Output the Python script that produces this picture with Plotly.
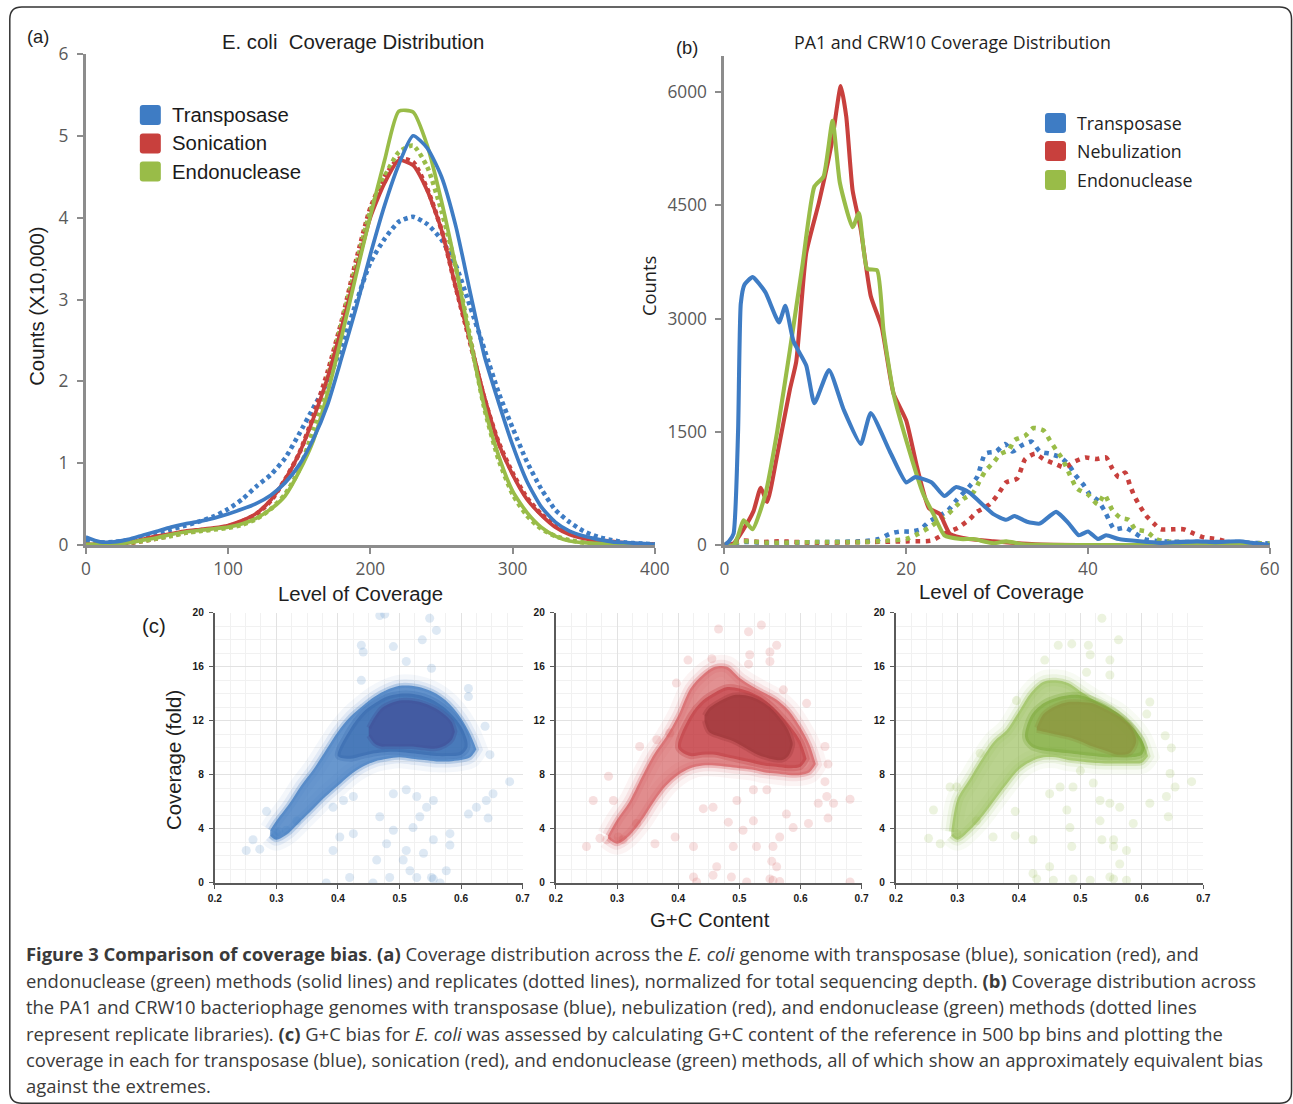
import plotly.graph_objects as go

# Screen-capture mapping measured from previous renders: screen = S * page + O
OX, SX, OY, SY = 7.2, 0.983, 12.1, 0.979
FW, FH = 1308, 1115
def fx(X): return ((X - OX) / SX) / FW
def fy(Y): return 1 - ((Y - OY) / SY) / FH
def fs(s): return round(s / SX, 2)

# ---------------- (a) E. coli coverage distribution (counts x10,000) ----------------
cov_a = [0, 10, 20, 30, 40, 50, 60, 70, 80, 90, 100, 110, 120, 130, 140, 150, 160, 170, 180, 190,
         200, 210, 220, 230, 240, 250, 260, 270, 280, 290, 300, 310, 320, 330, 340, 350, 360, 370,
         380, 390, 400]
trans_a = [0.10, 0.04, 0.04, 0.07, 0.12, 0.17, 0.22, 0.26, 0.29, 0.33, 0.38, 0.44, 0.51, 0.61, 0.76,
           0.98, 1.30, 1.72, 2.30, 2.90, 3.55, 4.15, 4.65, 5.00, 4.85, 4.50, 3.90, 3.10, 2.32, 1.75,
           1.22, 0.78, 0.47, 0.28, 0.17, 0.11, 0.07, 0.04, 0.03, 0.02, 0.01]
sonic_a = [0.01, 0.01, 0.01, 0.03, 0.07, 0.11, 0.14, 0.17, 0.19, 0.21, 0.24, 0.30, 0.39, 0.55, 0.80,
           1.12, 1.55, 2.05, 2.67, 3.35, 4.00, 4.42, 4.70, 4.64, 4.33, 3.85, 3.15, 2.50, 1.82, 1.25,
           0.86, 0.56, 0.37, 0.22, 0.13, 0.08, 0.05, 0.03, 0.02, 0.01, 0.00]
endo_a = [0.01, 0.01, 0.01, 0.03, 0.06, 0.09, 0.13, 0.16, 0.18, 0.20, 0.22, 0.26, 0.33, 0.44, 0.60,
          0.90, 1.28, 1.86, 2.56, 3.30, 4.02, 4.70, 5.30, 5.29, 4.88, 4.20, 3.40, 2.52, 1.70, 1.10,
          0.66, 0.40, 0.22, 0.11, 0.05, 0.03, 0.02, 0.01, 0.00, 0.00, 0.00]
trans_a_rep = [0.05, 0.03, 0.04, 0.06, 0.10, 0.15, 0.19, 0.24, 0.29, 0.35, 0.44, 0.56, 0.72, 0.86, 1.06,
               1.36, 1.68, 2.00, 2.44, 2.96, 3.45, 3.74, 3.95, 4.01, 3.92, 3.73, 3.42, 2.92, 2.40, 1.87,
               1.43, 1.02, 0.69, 0.43, 0.28, 0.17, 0.10, 0.06, 0.03, 0.02, 0.01]
sonic_a_rep = [0.00, 0.00, 0.01, 0.02, 0.05, 0.08, 0.12, 0.15, 0.18, 0.20, 0.23, 0.29, 0.38, 0.54, 0.80,
               1.12, 1.58, 2.12, 2.75, 3.48, 4.12, 4.50, 4.72, 4.68, 4.35, 3.85, 3.15, 2.48, 1.80, 1.26,
               0.88, 0.58, 0.38, 0.24, 0.15, 0.09, 0.06, 0.04, 0.02, 0.01, 0.01]
endo_a_rep = [0.00, 0.00, 0.01, 0.03, 0.05, 0.08, 0.11, 0.15, 0.17, 0.19, 0.21, 0.25, 0.32, 0.44, 0.62,
              0.92, 1.42, 2.05, 2.72, 3.42, 4.08, 4.50, 4.80, 4.88, 4.62, 4.08, 3.40, 2.55, 1.68, 1.05,
              0.62, 0.36, 0.20, 0.11, 0.06, 0.03, 0.02, 0.01, 0.00, 0.00, 0.00]
a_xticks = [0, 100, 200, 300, 400]
a_yticks = [0, 1, 2, 3, 4, 5, 6]
a_legend = ["Transposase", "Sonication", "Endonuclease"]

# ---------------- (b) PA1 and CRW10 coverage distribution ----------------
trans_b_x = [0, 0.5, 1.0, 1.5, 1.8, 2.2, 3.1, 4.5, 6.0, 6.7, 7.6, 9.0, 9.9, 11.5, 13.1, 15.0, 16.1, 18.2,
             20.0, 21.0, 22.8, 24.2, 25.5, 26.9, 29.6, 31.0, 31.9, 33.3, 34.7, 36.5, 37.9, 39.0, 40.0,
             41.1, 42.0, 43.4, 45.7, 48.0, 50, 52, 54, 56.7, 58, 60]
trans_b_y = [0, 50, 150, 1500, 3200, 3450, 3550, 3350, 2950, 3170, 2700, 2380, 1880, 2320, 1800, 1340,
             1750, 1240, 830, 900, 830, 650, 770, 700, 410, 335, 385, 310, 285, 440, 285, 130, 180, 80,
             130, 80, 50, 30, 40, 50, 40, 50, 30, 0]
nebul_b_x = [0, 1.0, 2.1, 3.2, 4.0, 4.7, 5.8, 7.2, 7.9, 9.0, 10.4, 11.8, 12.8, 13.4, 14.1, 15.0, 16.1,
             17.3, 18.6, 20.0, 21.2, 22.5, 23.7, 24.8, 26.9, 29.6, 34.2, 40, 50, 60]
nebul_b_y = [0, 20, 210, 450, 760, 570, 1190, 2060, 2430, 3870, 4540, 5320, 6080, 5680, 4700, 4180,
             3300, 2890, 2010, 1650, 1030, 490, 410, 150, 80, 50, 10, 0, 0, 0]
endo_b_x = [0, 1.0, 1.5, 2.1, 3.1, 4.5, 5.8, 7.2, 8.6, 9.9, 10.9, 11.9, 12.7, 14.1, 14.8, 15.7, 16.8,
            17.5, 18.6, 20.0, 21.9, 23.0, 24.2, 26.0, 27.4, 29.6, 31.0, 32.9, 40, 50, 60]
endo_b_y = [0, 0, 120, 330, 210, 670, 1500, 2580, 3720, 4750, 4880, 5620, 4800, 4210, 4400, 3660, 3640,
            2840, 2010, 1390, 670, 410, 130, 80, 80, 25, 50, 10, 0, 0, 0]
trans_b_rep_x = [0, 2, 5, 10, 15, 17, 18.2, 19.3, 20.5, 21.6, 22.5, 23.7, 24.6, 25.5, 26.9, 27.8, 28.7,
                 29.9, 30.9, 31.7, 32.7, 33.8, 34.7, 35.8, 37.0, 37.9, 38.6, 39.5, 40.2, 41.1, 41.8, 42.3,
                 42.9, 44.1, 45.2, 46.2, 48, 52, 56, 60]
trans_b_rep_y = [0, 40, 30, 40, 50, 80, 150, 180, 180, 210, 310, 390, 460, 590, 770, 900, 1210, 1240,
                 1340, 1240, 1320, 1370, 1240, 1210, 1160, 1060, 930, 800, 670, 590, 460, 335, 210, 230,
                 155, 80, 50, 40, 40, 20]
nebul_b_rep_x = [0, 2, 4, 6, 10, 15, 20, 22.8, 24.2, 25.7, 26.9, 27.8, 29.2, 30.1, 31.0, 32.2, 33.1, 34.2,
                 35.1, 36.3, 37.4, 38.6, 39.7, 41.0, 42.0, 42.7, 43.4, 44.1, 44.6, 45.1, 45.7, 46.4, 47.3,
                 48.0, 49.4, 50.5, 51.6, 52.8, 54.2, 55.8, 60]
nebul_b_rep_y = [0, 60, 40, 50, 30, 40, 50, 60, 150, 230, 335, 440, 540, 670, 830, 880, 1140, 1210, 1140,
                 1080, 1030, 1110, 1160, 1140, 1160, 1010, 900, 960, 800, 650, 520, 390, 280, 210, 210,
                 210, 155, 100, 80, 30, 0]
endo_b_rep_x = [0, 2, 5, 10, 15, 18, 20, 21.4, 22.5, 23.7, 24.6, 25.5, 26.4, 27.4, 28.0, 28.7, 29.7, 30.4,
                31.3, 31.9, 33.1, 34.0, 35.1, 35.8, 36.5, 37.2, 37.7, 38.8, 40.0, 41.1, 41.8, 42.7, 43.6,
                44.5, 45.2, 46.4, 47.5, 48.4, 52, 56, 60]
endo_b_rep_y = [0, 50, 30, 40, 40, 60, 80, 155, 230, 335, 410, 520, 620, 700, 830, 980, 1110, 1210, 1260,
                1390, 1450, 1550, 1520, 1390, 1260, 1140, 1010, 750, 670, 540, 670, 460, 360, 335, 210,
                180, 80, 50, 30, 30, 20]
b_xticks = [0, 20, 40, 60]
b_yticks = [0, 1500, 3000, 4500, 6000]
b_legend = ["Transposase", "Nebulization", "Endonuclease"]

# ---------------- (c) G+C bias: density envelopes (GC, low cov, high cov) + sparse points ----------------
blue_outer_gc = [0.29, 0.30, 0.32, 0.34, 0.36, 0.38, 0.40, 0.42, 0.44, 0.46, 0.48, 0.50, 0.52, 0.54, 0.56, 0.58, 0.60, 0.615, 0.625]
blue_outer_lo = [3.5, 3.2, 3.7, 4.6, 5.5, 6.4, 7.2, 8.0, 8.6, 9.0, 9.2, 9.3, 9.2, 9.1, 9.0, 9.0, 9.1, 9.3, 9.9]
blue_outer_hi = [3.9, 4.6, 5.8, 7.2, 8.4, 9.8, 11.2, 12.3, 13.1, 13.8, 14.3, 14.6, 14.6, 14.4, 14.0, 13.3, 12.2, 11.0, 9.9]
blue_mid_gc = [0.40, 0.42, 0.44, 0.46, 0.48, 0.50, 0.52, 0.54, 0.56, 0.58, 0.60, 0.61]
blue_mid_lo = [9.4, 9.2, 9.4, 9.6, 9.7, 9.7, 9.6, 9.5, 9.4, 9.4, 9.5, 10.0]
blue_mid_hi = [9.4, 11.4, 12.6, 13.3, 13.8, 14.0, 14.0, 13.8, 13.4, 12.7, 11.6, 10.5]
blue_core_gc = [0.450, 0.46, 0.47, 0.48, 0.50, 0.52, 0.54, 0.56, 0.575, 0.585, 0.59]
blue_core_lo = [10.9, 10.3, 10.1, 10.1, 10.1, 10.1, 10.0, 9.95, 10.2, 10.6, 11.2]
blue_core_hi = [11.5, 12.3, 12.9, 13.2, 13.5, 13.5, 13.3, 12.9, 12.4, 11.9, 11.2]
blue_sparse = [(0.468, 19.8), (0.476, 19.9), (0.549, 19.6), (0.560, 18.7), (0.537, 18.0), (0.490, 17.5),
               (0.441, 17.1), (0.438, 17.6), (0.511, 16.4), (0.552, 15.9), (0.438, 15.0), (0.612, 14.4),
               (0.612, 13.8), (0.639, 11.6), (0.647, 9.5), (0.679, 7.5), (0.652, 6.6), (0.641, 6.1),
               (0.625, 5.6), (0.612, 5.1), (0.644, 4.8), (0.582, 2.8), (0.576, 0.9), (0.552, 0.4),
               (0.555, 0.3), (0.566, 0.0), (0.528, 0.4), (0.506, 1.7), (0.511, 2.4), (0.522, 4.1),
               (0.533, 4.9), (0.544, 5.6), (0.555, 6.1), (0.528, 6.4), (0.511, 6.9), (0.490, 6.6),
               (0.468, 4.9), (0.463, 1.7), (0.479, 2.9), (0.490, 3.9), (0.425, 6.4), (0.409, 6.1),
               (0.392, 5.6), (0.403, 3.4), (0.392, 2.4), (0.425, 3.65), (0.419, 0.4), (0.381, 0.0),
               (0.484, 0.4), (0.457, 0.0), (0.251, 2.4), (0.262, 3.2), (0.273, 2.5), (0.284, 5.3),
               (0.316, 3.9), (0.333, 4.6), (0.582, 3.65), (0.555, 3.2), (0.539, 2.2), (0.517, 0.9),
               (0.300, 3.7), (0.296, 3.5), (0.304, 3.8)]

red_outer_gc = [0.285, 0.30, 0.32, 0.34, 0.36, 0.38, 0.40, 0.42, 0.44, 0.46, 0.48, 0.50, 0.52, 0.54, 0.56, 0.58, 0.60, 0.615, 0.625]
red_outer_lo = [3.3, 2.9, 3.5, 4.6, 6.0, 7.2, 8.0, 8.5, 8.7, 8.7, 8.6, 8.5, 8.4, 8.2, 8.1, 8.0, 8.0, 8.2, 8.8]
red_outer_hi = [3.5, 4.7, 6.0, 7.8, 9.5, 10.8, 12.4, 14.4, 15.4, 16.0, 16.0, 15.2, 14.6, 14.1, 13.6, 12.8, 11.5, 10.2, 8.8]
red_mid_gc = [0.40, 0.42, 0.44, 0.46, 0.48, 0.50, 0.52, 0.54, 0.56, 0.58, 0.60, 0.61]
red_mid_lo = [10.0, 9.4, 9.5, 9.5, 9.3, 9.1, 8.9, 8.7, 8.6, 8.5, 8.6, 9.2]
red_mid_hi = [10.0, 12.4, 13.5, 14.1, 14.5, 14.4, 14.1, 13.6, 12.8, 11.8, 10.5, 9.2]
red_core_gc = [0.443, 0.45, 0.47, 0.49, 0.51, 0.53, 0.55, 0.57, 0.58, 0.587]
red_core_lo = [12.0, 11.2, 10.8, 10.5, 10.0, 9.5, 9.2, 9.1, 9.4, 10.2]
red_core_hi = [12.4, 12.9, 13.5, 13.9, 13.9, 13.6, 13.0, 12.0, 11.3, 10.4]
red_sparse = [(0.466, 18.8), (0.515, 18.6), (0.536, 19.1), (0.561, 17.6), (0.550, 17.1), (0.517, 16.9),
              (0.515, 16.2), (0.416, 16.5), (0.455, 16.6), (0.550, 16.4), (0.610, 13.3), (0.572, 14.3),
              (0.640, 10.1), (0.645, 8.8), (0.640, 7.5), (0.681, 6.2), (0.654, 5.9), (0.643, 6.4),
              (0.629, 5.9), (0.613, 4.4), (0.645, 4.8), (0.588, 4.1), (0.577, 5.1), (0.566, 3.4),
              (0.555, 2.7), (0.553, 1.6), (0.561, 1.2), (0.550, 0.3), (0.555, 0.2), (0.566, 0.1),
              (0.512, 0.07), (0.487, 0.44), (0.457, 0.57), (0.430, 0.07), (0.425, 0.44), (0.463, 1.2),
              (0.490, 2.7), (0.528, 2.7), (0.523, 4.6), (0.506, 3.9), (0.482, 4.5), (0.457, 5.6),
              (0.441, 5.5), (0.496, 6.1), (0.523, 6.9), (0.545, 6.9), (0.425, 2.7), (0.395, 3.4),
              (0.362, 2.9), (0.332, 4.4), (0.310, 3.2), (0.302, 3.4), (0.283, 3.2), (0.272, 3.3),
              (0.250, 2.7), (0.261, 6.1), (0.286, 7.9), (0.294, 6.1), (0.337, 10.1), (0.365, 10.6),
              (0.386, 11.1), (0.397, 14.8), (0.681, 0.07)]

green_outer_gc = [0.29, 0.30, 0.32, 0.34, 0.36, 0.38, 0.40, 0.42, 0.44, 0.46, 0.48, 0.50, 0.52, 0.54, 0.56, 0.58, 0.60, 0.61]
green_outer_lo = [3.5, 3.2, 3.9, 4.9, 6.1, 7.3, 8.4, 9.0, 9.3, 9.3, 9.1, 9.0, 8.9, 8.85, 8.85, 8.85, 8.9, 9.4]
green_outer_hi = [3.8, 6.2, 7.7, 9.2, 10.5, 11.3, 12.7, 14.1, 14.9, 15.0, 14.8, 14.2, 13.6, 13.1, 12.6, 11.8, 10.6, 9.4]
green_mid_gc = [0.41, 0.42, 0.44, 0.46, 0.48, 0.50, 0.52, 0.54, 0.56, 0.58, 0.60, 0.605]
green_mid_lo = [10.8, 10.1, 9.8, 9.7, 9.6, 9.5, 9.4, 9.3, 9.3, 9.3, 9.5, 10.0]
green_mid_hi = [10.8, 12.4, 13.3, 13.7, 13.9, 13.9, 13.6, 13.2, 12.6, 11.8, 10.6, 10.0]
green_core_gc = [0.429, 0.44, 0.46, 0.48, 0.50, 0.52, 0.54, 0.56, 0.58, 0.59]
green_core_lo = [11.3, 11.2, 11.0, 10.8, 10.5, 10.1, 9.8, 9.5, 9.6, 10.3]
green_core_hi = [11.5, 12.5, 13.1, 13.4, 13.4, 13.3, 12.9, 12.4, 11.7, 10.8]
green_sparse = [(0.535, 19.6), (0.464, 17.6), (0.486, 17.7), (0.513, 17.6), (0.516, 16.9), (0.562, 18.0),
                (0.442, 16.5), (0.548, 16.5), (0.548, 15.4), (0.510, 15.6), (0.613, 13.4), (0.608, 12.5),
                (0.638, 10.9), (0.648, 10.0), (0.646, 8.1), (0.681, 7.5), (0.654, 7.1), (0.640, 6.4),
                (0.613, 5.9), (0.643, 4.9), (0.586, 4.4), (0.564, 5.6), (0.548, 5.9), (0.532, 6.1),
                (0.521, 7.4), (0.500, 8.3), (0.488, 7.1), (0.467, 7.1), (0.450, 6.6), (0.478, 5.4),
                (0.532, 4.6), (0.554, 3.2), (0.535, 3.2), (0.554, 2.7), (0.575, 2.4), (0.564, 1.4),
                (0.548, 0.44), (0.554, 0.3), (0.575, 0.2), (0.516, 0.2), (0.488, 0.3), (0.456, 0.2),
                (0.429, 0.3), (0.423, 0.7), (0.450, 1.2), (0.486, 2.7), (0.483, 4.1), (0.423, 3.2),
                (0.394, 3.5), (0.394, 5.3), (0.358, 3.4), (0.331, 4.6), (0.299, 3.65), (0.272, 2.9),
                (0.253, 3.3), (0.261, 5.4), (0.288, 7.1), (0.299, 7.1), (0.337, 9.6), (0.396, 13.5)]

caption_lines = [
    "<b>Figure 3 Comparison of coverage bias</b>. <b>(a)</b> Coverage distribution across the <i>E. coli</i> genome with transposase (blue), sonication (red), and",
    "endonuclease (green) methods (solid lines) and replicates (dotted lines), normalized for total sequencing depth. <b>(b)</b> Coverage distribution across",
    "the PA1 and CRW10 bacteriophage genomes with transposase (blue), nebulization (red), and endonuclease (green) methods (dotted lines",
    "represent replicate libraries). <b>(c)</b> G+C bias for <i>E. coli</i> was assessed by calculating G+C content of the reference in 500 bp bins and plotting the",
    "coverage in each for transposase (blue), sonication (red), and endonuclease (green) methods, all of which show an approximately equivalent bias",
    "against the extremes.",
]

# ---------------- styling ----------------
BLUE, RED, GREEN = '#3E7CC4', '#C8403D', '#99BC48'
AXGREY = '#8C8C8C'
TICKFONT = dict(family='Open Sans', size=fs(17), color='#595959')
HELV = 'Liberation Sans'

fig = go.Figure()

def line_trace(x, y, color, xa, ya, width, dash=None, smooth=0.6):
    fig.add_trace(go.Scatter(x=x, y=y, mode='lines', xaxis=xa, yaxis=ya, showlegend=False,
                             hoverinfo='skip',
                             line=dict(color=color, width=width, dash=dash, shape='spline', smoothing=smooth)))

# (a)
for ys, c in [(trans_a_rep, BLUE), (sonic_a_rep, RED), (endo_a_rep, GREEN)]:
    line_trace(cov_a, ys, c, 'x', 'y', 4.6, '4px,3.6px')
for ys, c in [(sonic_a, RED), (endo_a, GREEN), (trans_a, BLUE)]:
    line_trace(cov_a, ys, c, 'x', 'y', 3.7)

# (b)
for xs, ys, c in [(trans_b_rep_x, trans_b_rep_y, BLUE), (nebul_b_rep_x, nebul_b_rep_y, RED),
                  (endo_b_rep_x, endo_b_rep_y, GREEN)]:
    line_trace(xs, ys, c, 'x2', 'y2', 4.6, '4.5px,5.6px')
for xs, ys, c in [(nebul_b_x, nebul_b_y, RED), (endo_b_x, endo_b_y, GREEN), (trans_b_x, trans_b_y, BLUE)]:
    line_trace(xs, ys, c, 'x2', 'y2', 4.1, None, 0.5)

# (c)
def band(gc, lo, hi, xa, ya, fill, edge, edge_w):
    xs = list(gc) + list(gc)[::-1]
    ys = list(hi) + list(lo)[::-1]
    fig.add_trace(go.Scatter(x=xs, y=ys, mode='lines', fill='toself', fillcolor=fill,
                             line=dict(color=edge, width=edge_w, shape='spline', smoothing=0.9),
                             xaxis=xa, yaxis=ya, showlegend=False, hoverinfo='skip'))

def sparse(points, xa, ya, color):
    fig.add_trace(go.Scatter(x=[p[0] for p in points], y=[p[1] for p in points], mode='markers',
                             marker=dict(size=9, color=color, line=dict(width=0)),
                             xaxis=xa, yaxis=ya, showlegend=False, hoverinfo='skip'))

def cloud(xa, ya, rgb, rgb_mid, rgb_core, outer, mid, core, pts, a_out=0.7):
    r, g, b = rgb
    sparse(pts, xa, ya, f'rgba({r},{g},{b},0.17)')
    band(*outer, xa, ya, 'rgba(0,0,0,0)', f'rgba({r},{g},{b},0.06)', 22)
    band(*outer, xa, ya, 'rgba(0,0,0,0)', f'rgba({r},{g},{b},0.10)', 12)
    band(*outer, xa, ya, f'rgba({r},{g},{b},{a_out})', f'rgba({r},{g},{b},0.25)', 5)
    rm, gm, bm = rgb_mid
    band(*mid, xa, ya, f'rgba({rm},{gm},{bm},0.55)', f'rgba({rm},{gm},{bm},0.25)', 6)
    rc, gc_, bc = rgb_core
    band(*core, xa, ya, f'rgba({rc},{gc_},{bc},0.8)', f'rgba({rc},{gc_},{bc},0.35)', 5)

cloud('x3', 'y3', (62, 122, 192), (48, 98, 170), (66, 84, 156),
      (blue_outer_gc, blue_outer_lo, blue_outer_hi), (blue_mid_gc, blue_mid_lo, blue_mid_hi),
      (blue_core_gc, blue_core_lo, blue_core_hi), blue_sparse, 0.78)
cloud('x4', 'y4', (206, 72, 74), (188, 46, 52), (160, 56, 60),
      (red_outer_gc, red_outer_lo, red_outer_hi), (red_mid_gc, red_mid_lo, red_mid_hi),
      (red_core_gc, red_core_lo, red_core_hi), red_sparse, 0.6)
cloud('x5', 'y5', (140, 182, 68), (116, 164, 48), (140, 150, 62),
      (green_outer_gc, green_outer_lo, green_outer_hi), (green_mid_gc, green_mid_lo, green_mid_hi),
      (green_core_gc, green_core_lo, green_core_hi), green_sparse, 0.6)

# ---------------- axes ----------------
def big_axis(dom, rng, ticks, anchor, standoff=0):
    return dict(domain=dom, range=rng, tickvals=ticks, anchor=anchor, showline=True, linecolor=AXGREY,
                linewidth=3, ticks='outside', ticklen=6, tickwidth=2, tickcolor=AXGREY,
                tickfont=TICKFONT, showgrid=False, zeroline=False, fixedrange=True,
                ticklabelstandoff=standoff)

layout_axes = {}
layout_axes['xaxis'] = big_axis([fx(86), fx(655)], [0, 400], a_xticks, 'y')
layout_axes['yaxis'] = big_axis([fy(545), fy(54)], [0, 6], a_yticks, 'x', 5)
layout_axes['xaxis2'] = big_axis([fx(724.5), fx(1269.7)], [0, 60], b_xticks, 'y2')
layout_axes['yaxis2'] = big_axis([fy(545), fy(55.6)], [0, 6485], b_yticks, 'x2', 5)

c_x_px = [(215, 522.7), (556, 861.7), (896, 1203.3)]
small_font = dict(family=HELV, size=fs(10), color='#1a1a1a', weight='bold')
for i, (x0, x1) in enumerate(c_x_px):
    n = i + 3
    layout_axes[f'xaxis{n}'] = dict(domain=[fx(x0), fx(x1)], range=[0.2, 0.7], anchor=f'y{n}', dtick=0.1,
                                    tick0=0.2, tickformat='.1f', showline=True, linecolor='#5a5a5a',
                                    linewidth=2, ticks='outside', ticklen=4, tickcolor='#5a5a5a',
                                    tickfont=small_font, showgrid=True, gridcolor='#E2E2E2', zeroline=False,
                                    ticklabelstandoff=1,
                                    minor=dict(dtick=0.025, showgrid=True, gridcolor='#F1F1F1'))
    layout_axes[f'yaxis{n}'] = dict(domain=[fy(882.7), fy(612.7)], range=[0, 20], anchor=f'x{n}', dtick=4,
                                    showline=True, linecolor='#5a5a5a', linewidth=2, ticks='outside',
                                    ticklen=4, tickcolor='#5a5a5a', tickfont=small_font, showgrid=True,
                                    gridcolor='#E2E2E2', zeroline=False, ticklabelstandoff=3,
                                    minor=dict(dtick=1, showgrid=True, gridcolor='#F1F1F1'))

# ---------------- annotations ----------------
ann = []
def text(t, x, y, size, family=HELV, color='#1e1e1e', xanchor='center', angle=0):
    ann.append(dict(text=t, x=fx(x), y=fy(y), xref='paper', yref='paper', showarrow=False,
                    xanchor=xanchor, yanchor='middle', textangle=angle,
                    font=dict(family=family, size=fs(size), color=color)))

text('(a)', 38, 37, 18)
text('E. coli\u00a0\u00a0Coverage Distribution', 353, 42, 20)
text('Counts (X10,000)', 37, 306, 20, angle=-90)
text('Level of Coverage', 361, 594, 20)
text('(b)', 687, 47.5, 18)
text('PA1 and CRW10 Coverage Distribution', 953, 42, 17.5, family='Open Sans')
text('Counts', 648, 286, 18, family='Open Sans', angle=-90)
text('Level of Coverage', 1002, 592, 20)
text('(c)', 154, 626, 20)
text('Coverage (fold)', 174, 760, 20, angle=-90)
text('G+C Content', 710, 920, 20)

cap_y = [953, 980, 1006, 1033, 1059, 1085]
for line, yy in zip(caption_lines, cap_y):
    text(line, 24, yy, 18.1, family='Open Sans', color='#3a3a3a', xanchor='left')

# legends
def rrect(x0, y0, x1, y1, r):
    X = fx; Y = fy
    return (f"M {X(x0 + r)},{Y(y0)} L {X(x1 - r)},{Y(y0)} Q {X(x1)},{Y(y0)} {X(x1)},{Y(y0 + r)} "
            f"L {X(x1)},{Y(y1 - r)} Q {X(x1)},{Y(y1)} {X(x1 - r)},{Y(y1)} L {X(x0 + r)},{Y(y1)} "
            f"Q {X(x0)},{Y(y1)} {X(x0)},{Y(y1 - r)} L {X(x0)},{Y(y0 + r)} Q {X(x0)},{Y(y0)} {X(x0 + r)},{Y(y0)} Z")

shapes = []
leg_cols = [BLUE, RED, GREEN]
for lab, c, yc in zip(a_legend, leg_cols, [115, 143.5, 171.6]):
    shapes.append(dict(type='path', xref='paper', yref='paper', path=rrect(140, yc - 10, 161, yc + 10, 3),
                       fillcolor=c, line=dict(width=0)))
    text(lab, 170.5, yc, 20, xanchor='left', color='#1a1a1a')
for lab, c, yc in zip(b_legend, leg_cols, [123, 151, 180]):
    shapes.append(dict(type='path', xref='paper', yref='paper', path=rrect(1045, yc - 10, 1066, yc + 10, 3),
                       fillcolor=c, line=dict(width=0)))
    text(lab, 1075, yc, 17.5, family='Open Sans', xanchor='left', color='#222')

# outer rounded frame
shapes.append(dict(type='path', xref='paper', yref='paper', path=rrect(10, 7, 1291.5, 1103, 12),
                   line=dict(color='#333333', width=1.5), fillcolor='rgba(0,0,0,0)'))

fig.update_layout(width=FW, height=FH, margin=dict(l=0, r=0, t=0, b=0), paper_bgcolor='white',
                  plot_bgcolor='white', annotations=ann, shapes=shapes, showlegend=False, **layout_axes)

fig.write_html("out.html", config={'displayModeBar': False},
               post_script="document.body.style.margin='0';document.body.style.padding='0';"
                           "document.documentElement.style.overflow='hidden';")
